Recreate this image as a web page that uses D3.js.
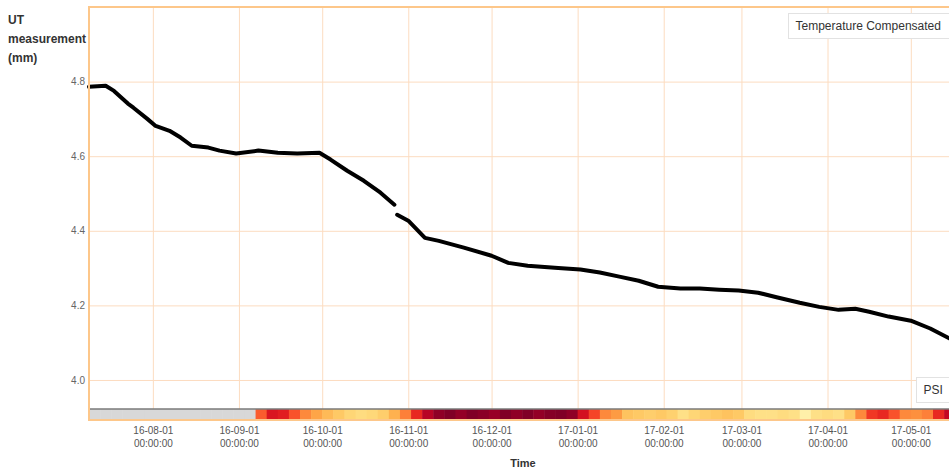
<!DOCTYPE html>
<html>
<head>
<meta charset="utf-8">
<script src="https://cdn.jsdelivr.net/npm/d3@7"></script>
<style>
  body { margin: 0; background: #fff; }
  svg { display: block; font-family: "Liberation Sans", Arial, sans-serif; }
</style>
</head>
<body>
<svg id="chart" width="949" height="470"></svg>
<script>
// UT thickness readings, null marks the break in the trace
const utDates = [
  '2016-07-09', '2016-07-15', '2016-07-18', '2016-07-23', '2016-07-25', '2016-07-30',
  '2016-08-02', '2016-08-07', '2016-08-11', '2016-08-15', '2016-08-21', '2016-08-25',
  '2016-08-31', '2016-09-08', '2016-09-15', '2016-09-22', '2016-09-30', '2016-10-04',
  '2016-10-10', '2016-10-16', '2016-10-22', '2016-10-27', '2016-10-27', '2016-10-28',
  '2016-11-01', '2016-11-07', '2016-11-12', '2016-11-21', '2016-12-01', '2016-12-07',
  '2016-12-14', '2016-12-25', '2017-01-02', '2017-01-09', '2017-01-16', '2017-01-23',
  '2017-01-30', '2017-02-07', '2017-02-14', '2017-02-21', '2017-02-28', '2017-03-07',
  '2017-03-14', '2017-03-22', '2017-03-29', '2017-04-05', '2017-04-11', '2017-04-16',
  '2017-04-23', '2017-05-01', '2017-05-08', '2017-05-15'
];
const utValues = [
  4.786, 4.789, 4.775, 4.741, 4.730, 4.700,
  4.681, 4.668, 4.650, 4.628, 4.623, 4.615,
  4.607, 4.615, 4.609, 4.607, 4.609, 4.591,
  4.561, 4.534, 4.502, 4.470, null, 4.443,
  4.427, 4.381, 4.373, 4.355, 4.333, 4.314,
  4.306, 4.300, 4.296, 4.288, 4.277, 4.266,
  4.250, 4.245, 4.245, 4.242, 4.240, 4.234,
  4.221, 4.207, 4.196, 4.188, 4.191, 4.183,
  4.170, 4.159, 4.138, 4.111
];

// PSI strip, one value per 4 days from 2016-07-09 (0..1, null = no data)
const psiStart = '2016-07-09';
const psiStepDays = 4;
const psiValues = [
  null, null, null, null, null, null, null, null, null, null, null, null, null, null, null,
  0.60, 0.78, 0.75, 0.62, 0.50, 0.42, 0.35, 0.30, 0.25, 0.22, 0.24, 0.28, 0.38, 0.52,
  0.72, 0.88, 0.97, 1.00, 0.96, 1.00, 0.98, 0.95, 1.00, 0.97, 1.00, 0.96, 0.99, 1.00, 0.97,
  0.80, 0.65, 0.50, 0.45, 0.32, 0.30, 0.28, 0.30, 0.27, 0.20, 0.25, 0.28, 0.30, 0.32, 0.30,
  0.22, 0.20, 0.20, 0.22, 0.20, 0.10, 0.20, 0.22, 0.20, 0.30, 0.50, 0.68, 0.72, 0.62, 0.50,
  0.48, 0.52, 0.72, 0.85
];

const yTicks = [4.0, 4.2, 4.4, 4.6, 4.8];
const monthTicks = ['2016-08-01', '2016-09-01', '2016-10-01', '2016-11-01', '2016-12-01',
  '2017-01-01', '2017-02-01', '2017-03-01', '2017-04-01', '2017-05-01'];

const parse = d3.timeParse('%Y-%m-%d');
const svg = d3.select('#chart');

const margin = { top: 7, left: 89 };
const plotRight = 958;
const plotBottom = 421;

const x = d3.scaleTime()
  .domain([parse('2016-07-09'), parse('2017-05-18')])
  .range([margin.left, plotRight]);

const y = d3.scaleLinear()
  .domain([3.89, 5.0])
  .range([plotBottom, margin.top]);

const gridColor = '#fcdcc0';

// grid lines
svg.append('g')
  .attr('transform', `translate(${margin.left},0)`)
  .call(d3.axisLeft(y).tickValues(yTicks).tickSize(-(plotRight - margin.left)).tickFormat(''))
  .call((g) => g.select('.domain').remove())
  .call((g) => g.selectAll('line').attr('stroke', gridColor));

svg.append('g')
  .attr('transform', `translate(0,${margin.top})`)
  .call(d3.axisBottom(x).tickValues(monthTicks.map(parse)).tickSize(plotBottom - margin.top).tickFormat(''))
  .call((g) => g.select('.domain').remove())
  .call((g) => g.selectAll('line').attr('stroke', gridColor));

// y labels
svg.append('g')
  .attr('transform', `translate(${margin.left},0)`)
  .call(d3.axisLeft(y).tickValues(yTicks).tickSize(0).tickPadding(4).tickFormat(d3.format('.1f')))
  .call((g) => g.select('.domain').remove())
  .call((g) => g.selectAll('text').attr('fill', '#666').style('font-size', '10px')
    .style('font-family', '"Liberation Sans", Arial, sans-serif'));

// x labels (two lines)
const xAxis = svg.append('g')
  .attr('transform', `translate(0,${plotBottom})`)
  .call(d3.axisBottom(x).tickValues(monthTicks.map(parse)).tickSize(0).tickFormat(''))
  .call((g) => g.select('.domain').remove());
xAxis.selectAll('.tick').append('text')
  .attr('fill', '#555')
  .attr('text-anchor', 'middle')
  .style('font-size', '10px')
  .style('font-family', '"Liberation Sans", Arial, sans-serif')
  .selectAll('tspan')
  .data((d) => [d3.timeFormat('%y-%m-%d')(d), d3.timeFormat('%H:%M:%S')(d)])
  .join('tspan')
  .attr('x', 0)
  .attr('y', (d, i) => 13 + i * 13)
  .text((d) => d);

// PSI strip
const psiColor = (v) => (v == null ? '#d8d8d8' : d3.interpolateYlOrRd(v));
const stripTop = plotBottom - 12;
const stripH = 10;
const psiData = psiValues.map((v, i) => ({
  start: d3.timeDay.offset(parse(psiStart), i * psiStepDays),
  end: d3.timeDay.offset(parse(psiStart), (i + 1) * psiStepDays),
  v
}));
svg.append('g')
  .selectAll('rect')
  .data(psiData)
  .join('rect')
  .attr('x', (d) => x(d.start))
  .attr('y', stripTop)
  .attr('width', (d) => x(d.end) - x(d.start) + 0.5)
  .attr('height', stripH)
  .attr('fill', (d) => psiColor(d.v));
svg.append('line')
  .attr('x1', margin.left).attr('x2', plotRight)
  .attr('y1', stripTop).attr('y2', stripTop)
  .attr('stroke', '#7a7a7a').attr('stroke-width', 1.5);

// UT line
const ut = utDates.map((d, i) => ({ date: parse(d), v: utValues[i] }));
svg.append('path')
  .datum(ut)
  .attr('fill', 'none')
  .attr('stroke', '#000')
  .attr('stroke-width', 4)
  .attr('stroke-linejoin', 'round')
  .attr('stroke-linecap', 'round')
  .attr('d', d3.line().defined((d) => d.v != null).x((d) => x(d.date)).y((d) => y(d.v)));

// plot border
svg.append('rect')
  .attr('x', margin.left).attr('y', margin.top)
  .attr('width', plotRight - margin.left).attr('height', plotBottom - margin.top - 1)
  .attr('fill', 'none')
  .attr('stroke', '#fdc78a')
  .attr('stroke-width', 2);

// legend boxes
function legendBox(bx, by, w, h, label) {
  const g = svg.append('g').attr('transform', `translate(${bx},${by})`);
  g.append('rect').attr('width', w).attr('height', h)
    .attr('fill', '#fff').attr('stroke', '#e2e2e2');
  g.append('text').attr('x', 7).attr('y', h / 2 + 4)
    .attr('fill', '#333').style('font-size', '12px').text(label);
}
legendBox(788.5, 13.5, 170, 25, 'Temperature Compensated');
legendBox(916.5, 377.5, 40, 25, 'PSI');

// axis titles
svg.append('text')
  .attr('fill', '#333')
  .style('font-size', '12px')
  .style('font-weight', 'bold')
  .selectAll('tspan')
  .data(['UT', 'measurement', '(mm)'])
  .join('tspan')
  .attr('x', 8)
  .attr('y', (d, i) => 24 + i * 19)
  .text((d) => d);

svg.append('text')
  .attr('x', 523).attr('y', 467)
  .attr('text-anchor', 'middle')
  .attr('fill', '#333')
  .style('font-size', '11px')
  .style('font-weight', 'bold')
  .text('Time');
</script>
</body>
</html>
